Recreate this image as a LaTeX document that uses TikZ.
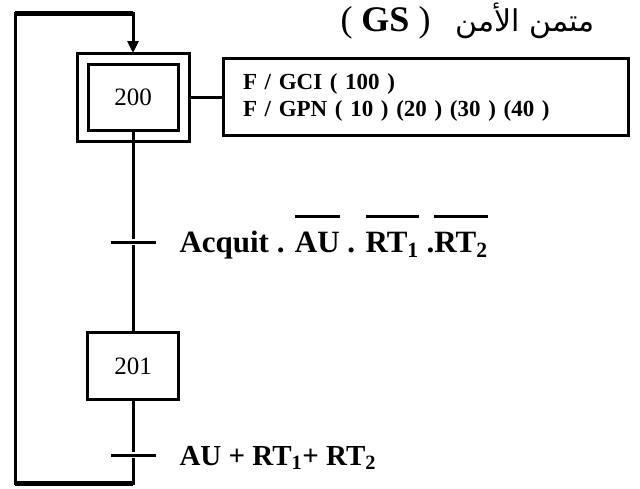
\documentclass[tikz,border=0pt]{standalone}
\usepackage{fontspec}
\setmainfont{Liberation Serif}
\newfontfamily\arabicfont[Script=Arabic]{DejaVu Sans}
\TeXXeTstate=1
\usetikzlibrary{arrows.meta}
\newcommand{\barre}[1]{\leavevmode\vbox{\hrule height 3pt\kern 14pt\hbox{#1}}}

\begin{document}
\begin{tikzpicture}[x=1pt, y=-1pt, line width=3pt,
    stepbox/.style={draw, rectangle, outer sep=0pt, inner sep=0pt,
      minimum width=91pt, minimum height=67pt, font=\fontsize{25}{30}\selectfont},
    initstep/.style={stepbox, double, double distance=8pt,
      minimum width=101pt, minimum height=77pt},
    actbox/.style={draw, rectangle, outer sep=0pt, inner xsep=20pt, inner ysep=0pt,
      text width=365pt, minimum height=77pt, align=left,
      font=\bfseries\fontsize{23}{27}\selectfont},
    trans/.style={fill=black, inner sep=0pt, minimum width=45pt, minimum height=3pt},
    cond/.style={anchor=base west, inner sep=0pt, font=\bfseries\fontsize{31}{36}\selectfont},
    loopline/.style={line width=5pt}]
    \useasboundingbox (0,0) rectangle (640,488);

    % title
    \node[anchor=base west, inner sep=0pt, font=\fontsize{36}{40}\selectfont]
      (gs) at (339,31) {( \textbf{GS} )};
    \node[anchor=base east, inner sep=0pt, font=\arabicfont\fontsize{30}{36}\selectfont]
      (ar) at (596,31) {\beginR متمن الأمن\endR};

    % 1. initial step 200 and its actions
    \node[initstep] (s200) at (133,97) {200};
    \node[actbox] (act) at (425.5,97)
      {F / GCI ( 100 )\\F / GPN ( 10 ) (20 ) (30 ) (40 )};
    \draw[shorten <=5.5pt] (s200.east) -- (act.west);

    % 2. transition 200 -> 201
    \node[trans] (t1) at (133,242) {};
    \node[cond] (c1) at (178,252)
      {Acquit . \barre{AU} . \barre{RT\textsubscript{1}} .\barre{RT\textsubscript{2}}};
    \draw[shorten <=-5.5pt] (s200.south) -- (t1);

    % 3. step 201
    \node[stepbox] (s201) at (133,366) {201};
    \draw (t1) -- (s201.north);

    % 4. transition 201 -> 200
    \node[trans] (t2) at (133,455) {};
    \node[cond, font=\bfseries\fontsize{29}{34}\selectfont] (c2) at (178,465)
      {AU + RT\textsubscript{1}+ RT\textsubscript{2}};
    \draw (s201.south) -- (t2);

    % loop back
    \coordinate (loopbr) at (133,483);
    \coordinate (loopbl) at (15,483);
    \coordinate (looptl) at (15,13);
    \coordinate (looptr) at (133,13);
    \draw[-{Triangle[length=12pt,width=11pt]}, shorten >=5.5pt]
      (t2) -- (loopbr) -- (loopbl) -- (looptl) -- (looptr) -- (s200.north);
    \draw[loopline] (loopbl) -- (loopbr);
    \draw[loopline] (looptl) -- (looptr);
\end{tikzpicture}
\end{document}
